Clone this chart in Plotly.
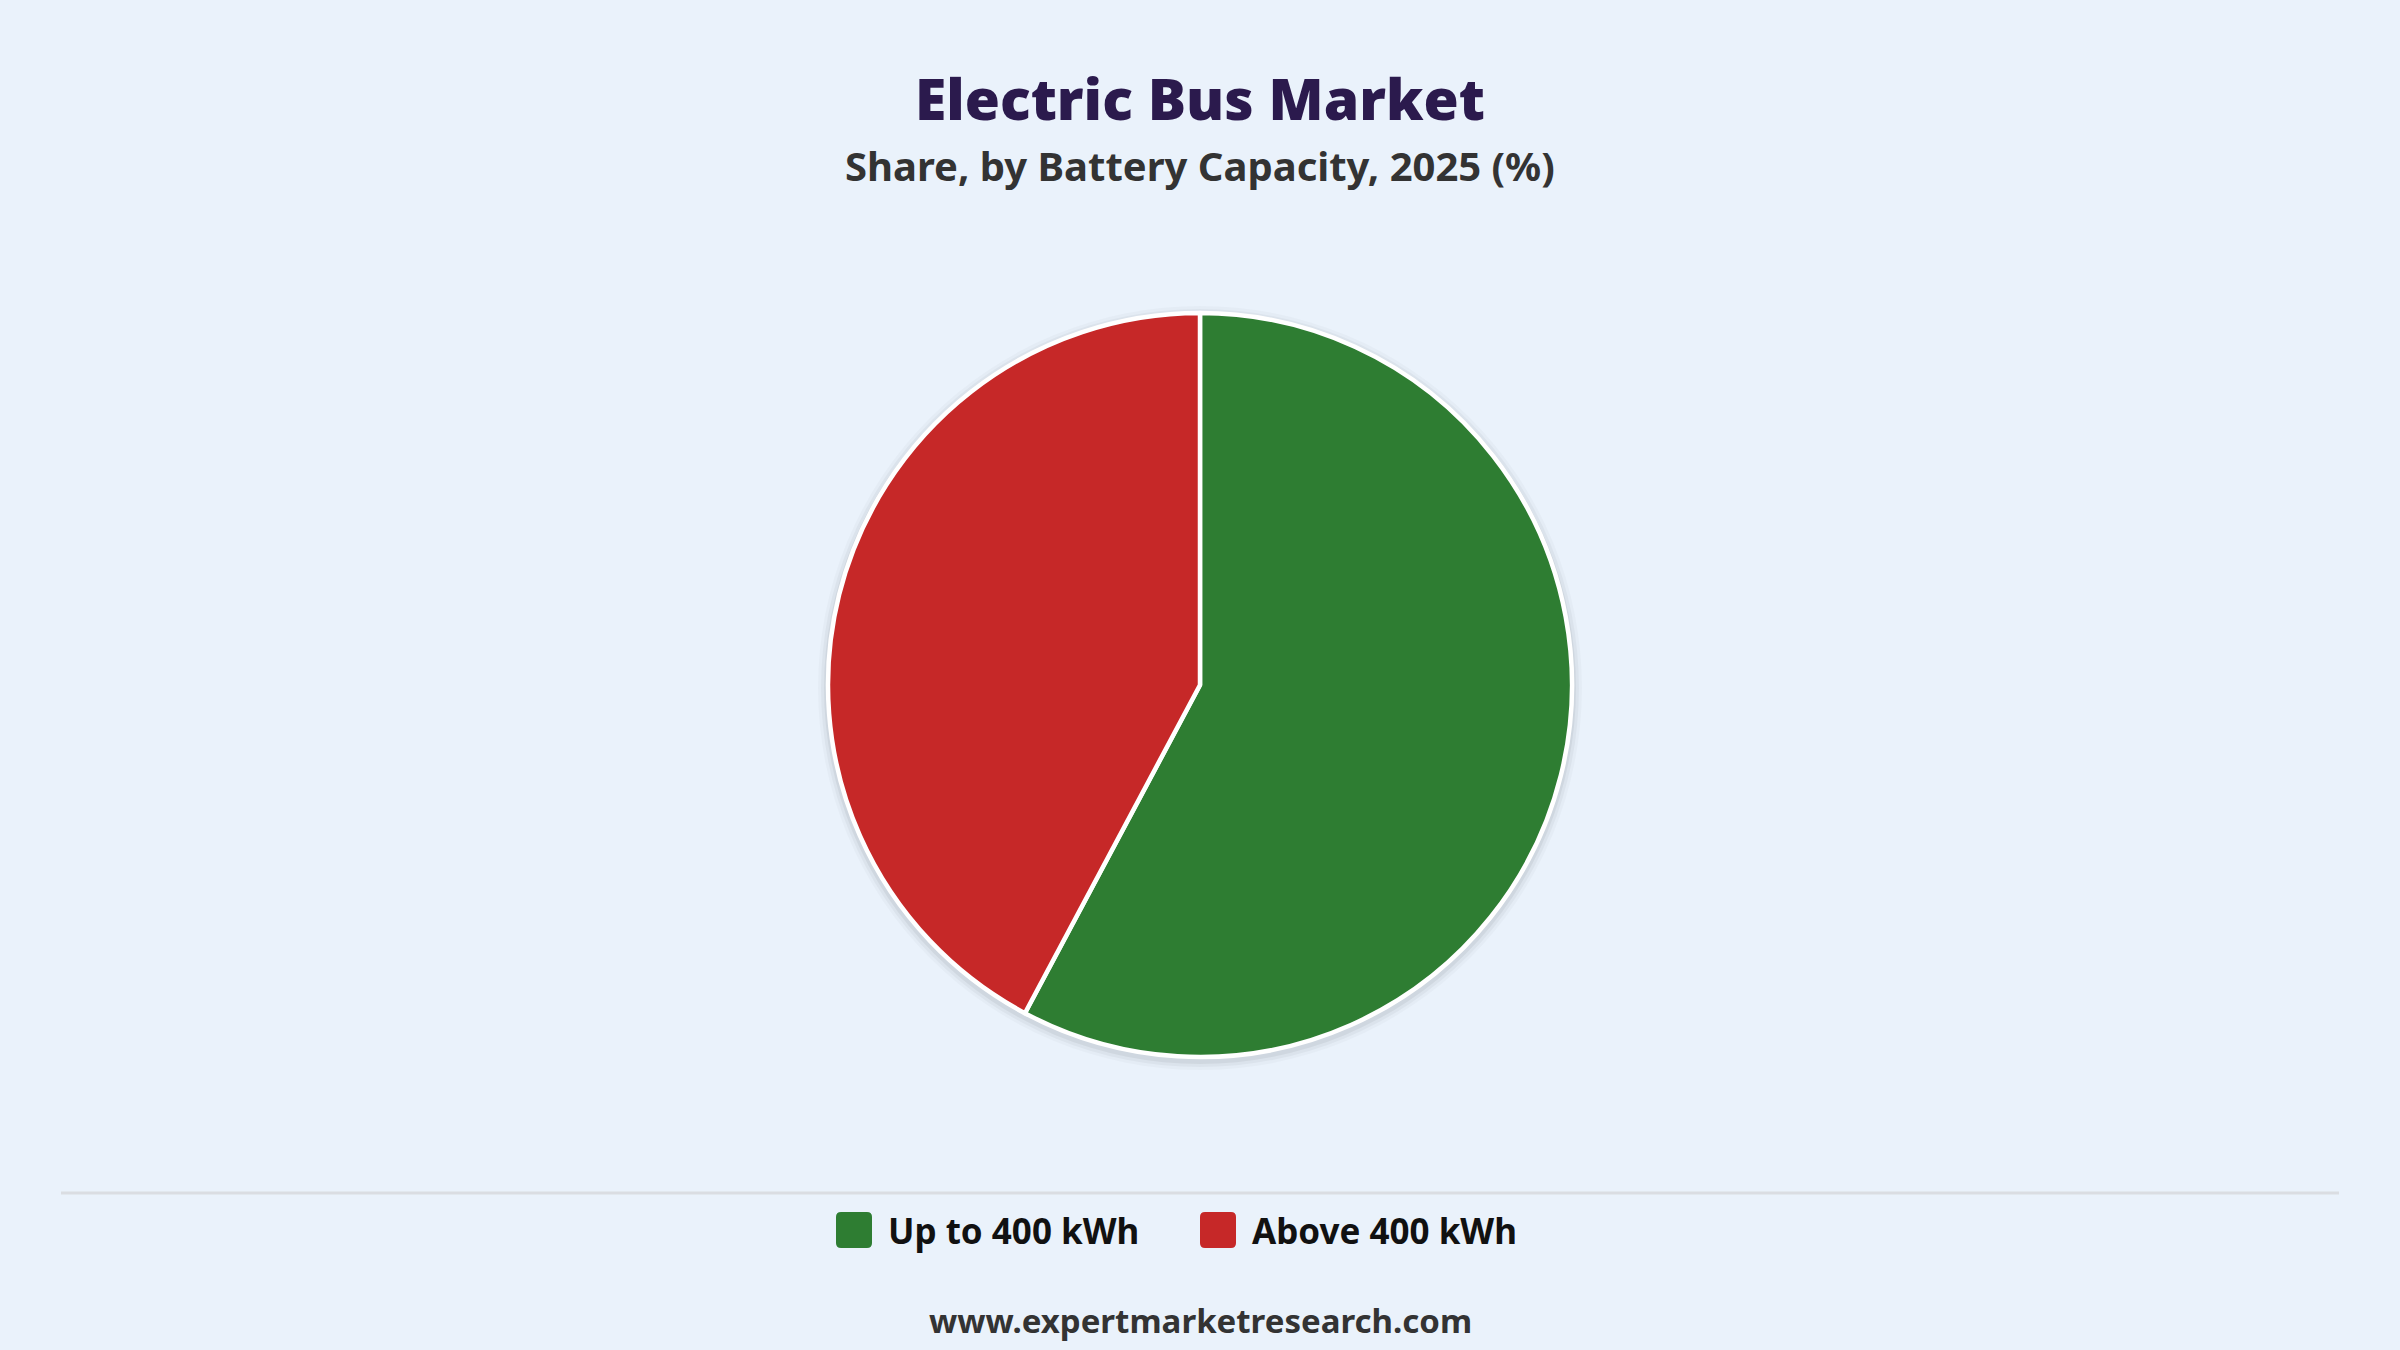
import plotly.graph_objects as go

labels = ["Up to 400 kWh", "Above 400 kWh"]
shares = [57.8, 42.2]
colors = ["#2E7D32", "#C62828"]

W, H = 2400, 1350
BG = "#EAF2FB"
FONT = "Noto Sans"

# pie geometry in pixels (centre and radius)
cx, cy, r = 1200, 685, 372


def px(x):
    return x / W


def py(y):
    return 1 - y / H


fig = go.Figure()

fig.add_trace(go.Pie(
    labels=labels,
    values=shares,
    marker=dict(colors=colors, line=dict(color="white", width=4.5)),
    sort=False,
    direction="clockwise",
    rotation=0,
    textinfo="none",
    hoverinfo="label+percent",
    showlegend=False,
    domain=dict(x=[px(cx - r), px(cx + r)], y=[py(cy + r), py(cy - r)]),
))

shapes = []
# soft shadow behind the pie
for grow, alpha in [(10, 0.025), (7, 0.035), (4, 0.05)]:
    shapes.append(dict(
        type="circle", xref="paper", yref="paper", layer="below",
        x0=px(cx - r - grow), x1=px(cx + r + grow),
        y0=py(cy + r + grow + 3), y1=py(cy - r - grow + 3),
        fillcolor=f"rgba(0,0,0,{alpha})", line=dict(width=0),
    ))

# divider line above the legend
shapes.append(dict(type="line", xref="paper", yref="paper",
                   x0=px(61), x1=px(2339), y0=py(1193), y1=py(1193),
                   line=dict(color="#DADDE2", width=3)))

annotations = [
    dict(text="Electric Bus Market", x=0.5, y=py(98), xref="paper", yref="paper",
         xanchor="center", yanchor="middle", showarrow=False,
         font=dict(family=FONT, size=57, weight=900, color="#2B1A4D")),
    dict(text="<b>Share, by Battery Capacity, 2025 (%)</b>", x=0.5, y=py(166), xref="paper",
         yref="paper", xanchor="center", yanchor="middle", showarrow=False,
         font=dict(family=FONT, size=40, color="#333333")),
    dict(text="<b>www.expertmarketresearch.com</b>", x=0.5, y=py(1320), xref="paper",
         yref="paper", xanchor="center", yanchor="middle", showarrow=False,
         font=dict(family=FONT, size=33, color="#333333")),
]

# custom legend with large rounded swatches
legend_x = [836, 1200]
for lab, col, lx in zip(labels, colors, legend_x):
    x0, x1, y0, y1 = lx, lx + 36, 1212, 1248
    rr = 5
    path = (f"M{x0 + rr},{y0} L{x1 - rr},{y0} Q{x1},{y0} {x1},{y0 + rr} "
            f"L{x1},{y1 - rr} Q{x1},{y1} {x1 - rr},{y1} L{x0 + rr},{y1} "
            f"Q{x0},{y1} {x0},{y1 - rr} L{x0},{y0 + rr} Q{x0},{y0} {x0 + rr},{y0} Z")
    shapes.append(dict(type="path", xref="x", yref="y", path=path,
                       fillcolor=col, line=dict(width=0)))
    annotations.append(dict(text=f"<b>{lab}</b>", x=px(lx + 50), y=py(1230), xref="paper",
                            yref="paper", xanchor="left", yanchor="middle", showarrow=False,
                            font=dict(family=FONT, size=35, color="#111111")))

fig.update_layout(
    width=W, height=H,
    paper_bgcolor=BG, plot_bgcolor=BG,
    margin=dict(l=0, r=0, t=0, b=0),
    shapes=shapes,
    annotations=annotations,
    xaxis=dict(range=[0, W], visible=False, fixedrange=True),
    yaxis=dict(range=[H, 0], visible=False, fixedrange=True),
)

fig.write_html("out.html", config={"displayModeBar": False},
               post_script="document.body.style.margin='0';")
